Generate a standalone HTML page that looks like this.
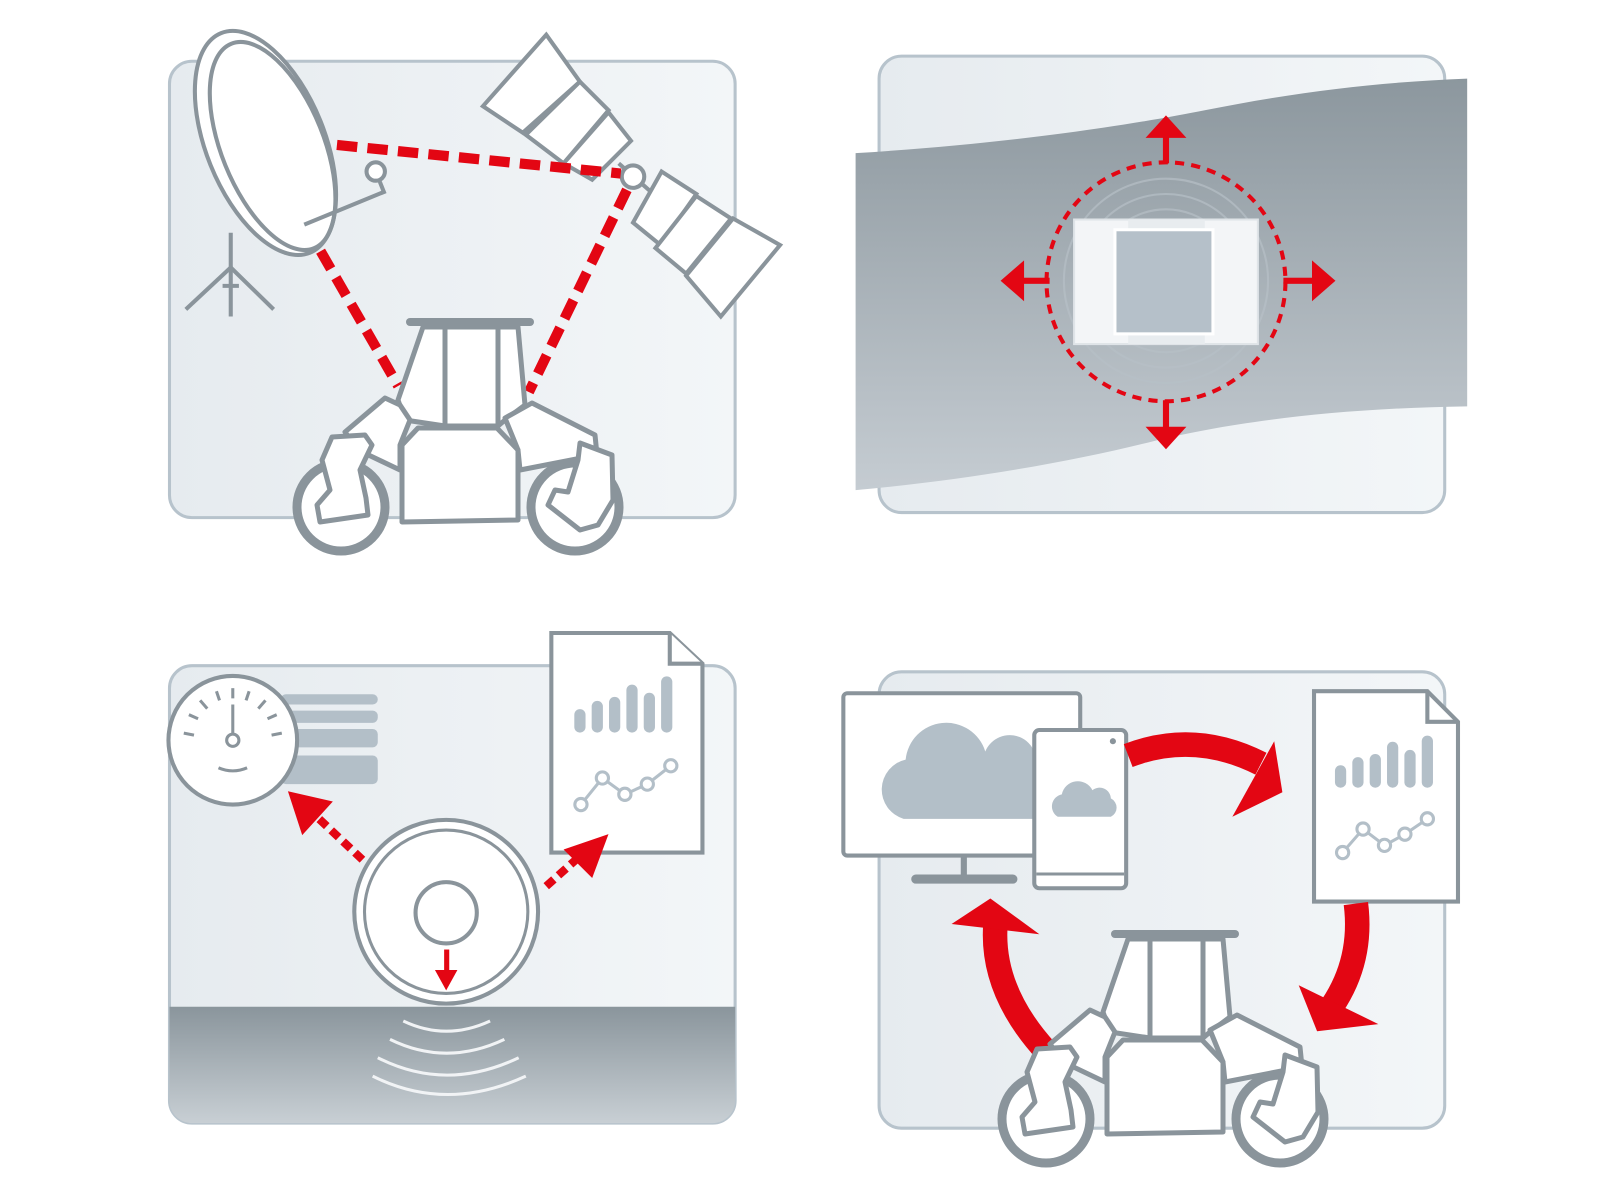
<!DOCTYPE html>
<html><head><meta charset="utf-8"><style>html,body{margin:0;padding:0;background:#fff}svg{display:block}</style></head>
<body>
<svg width="1600" height="1194" viewBox="0 0 1600 1194" xmlns="http://www.w3.org/2000/svg">
<defs>
<linearGradient id="pan" x1="0" x2="1"><stop offset="0" stop-color="#e6ebef"/><stop offset="1" stop-color="#f3f6f8"/></linearGradient>
<linearGradient id="band" x1="0" y1="0" x2="0" y2="1"><stop offset="0" stop-color="#8c979e"/><stop offset="1" stop-color="#c5ccd2"/></linearGradient>
<linearGradient id="gnd" x1="0" y1="0" x2="0" y2="1"><stop offset="0" stop-color="#8a959c"/><stop offset="1" stop-color="#c8cfd4"/></linearGradient>
<g id="robot" stroke="#8a949b" stroke-width="5" stroke-linejoin="round" fill="#fff">
  <polygon points="423,327 518,327 525,405 505,420 498,426 445,426 405,420 398,400"/>
  <line x1="445" y1="328" x2="445" y2="425"/><line x1="498" y1="328" x2="498" y2="425"/>
  <line x1="410" y1="322" x2="530" y2="322" stroke-width="8" stroke-linecap="round"/>
  <polygon points="345,432 385,398 400,405 410,420 400,445 400,470 358,450"/>
  <polygon points="505,418 532,403 595,435 597,455 520,470 518,450"/>
  <polygon points="402,445 418,428 497,428 518,450 518,520 402,522"/>
  <circle cx="341" cy="507" r="44" stroke-width="9"/>
  <circle cx="575" cy="507" r="44" stroke-width="9"/>
  <polygon points="332,437 365,435 372,445 360,470 366,498 368,515 320,522 317,505 330,490 322,460"/>
  <polygon points="580,443 612,455 613,500 598,525 580,530 548,505 555,490 568,492 578,460"/>
</g>
</defs>
<g transform="scale(1.021)">
<rect x="166" y="60" width="554" height="447" rx="22" fill="url(#pan)" stroke="#b7c3cc" stroke-width="3"/>
<rect x="861" y="55" width="554" height="447" rx="22" fill="url(#pan)" stroke="#b7c3cc" stroke-width="3"/>
<rect x="166" y="652" width="554" height="448" rx="22" fill="url(#pan)" stroke="#b7c3cc" stroke-width="3"/>
<path d="M166,986 H720 V1078 a22,22 0 0 1 -22,22 H188 a22,22 0 0 1 -22,-22Z" fill="url(#gnd)"/>
<rect x="861" y="658" width="554" height="447" rx="22" fill="url(#pan)" stroke="#b7c3cc" stroke-width="3"/>

<g stroke="#8a949b" stroke-width="4" fill="none">
<line x1="226" y1="228" x2="226" y2="310"/><line x1="182" y1="303" x2="226" y2="262"/><line x1="268" y1="303" x2="226" y2="262"/>
<line x1="218" y1="280" x2="234" y2="280"/>
</g>
<g stroke="#8a949b" stroke-width="4" fill="#fff">
<ellipse cx="260" cy="140" rx="58" ry="116" transform="rotate(-22 260 140)"/>
<ellipse cx="267" cy="143" rx="50" ry="108" transform="rotate(-22 267 143)" fill="none"/>
<polyline points="298,220 376,188 372,178" fill="none"/>
<circle cx="368" cy="168" r="9"/>
</g>
<g stroke="#8a949b" stroke-width="4" fill="#fff">
<polygon points="535,34 568,80 512,130 473,104"/>
<polygon points="568,80 596,108 552,160 515,132"/>
<polygon points="596,110 618,138 580,176 552,160"/>
<line x1="606" y1="160" x2="640" y2="190"/>
<polygon points="648,168 682,190 647,240 620,218"/>
<polygon points="682,192 716,214 672,268 642,243"/>
<polygon points="718,214 764,240 706,310 672,270"/>
<circle cx="620" cy="173" r="11"/>
</g>
<g stroke="#e30613" stroke-width="10" stroke-dasharray="20 10" fill="none">
<line x1="330" y1="142" x2="608" y2="170"/>
<line x1="614" y1="186" x2="518" y2="384"/>
<line x1="314" y1="246" x2="390" y2="378"/>
</g>

<path d="M838,150 C1000,140 1120,120 1180,108 C1280,88 1360,80 1437,77 V398 C1300,400 1200,415 1130,432 C1050,452 950,470 838,480Z" fill="url(#band)"/>
<g fill="none" stroke="#b7c0c7" stroke-width="2" opacity="0.7">
<circle cx="1142" cy="275" r="100"/><circle cx="1142" cy="275" r="85"/><circle cx="1142" cy="275" r="70"/>
</g>
<rect x="1052" y="215" width="180" height="122" fill="#f3f5f7" stroke="#dfe4e8" stroke-width="2"/>
<rect x="1105" y="215" width="75" height="122" fill="#e8ecef"/>
<rect x="1092" y="225" width="96" height="102" fill="#b5c0c9" stroke="#fff" stroke-width="3"/>
<circle cx="1142" cy="276" r="117" fill="none" stroke="#e30613" stroke-width="4" stroke-dasharray="9 7"/>
<g fill="#e30613">
<rect x="1139" y="125" width="6" height="35"/><polygon points="1122,135 1162,135 1142,113"/>
<rect x="1139" y="392" width="6" height="35"/><polygon points="1122,418 1162,418 1142,440"/>
<rect x="993" y="272" width="35" height="6"/><polygon points="1003,255 1003,295 980,275"/>
<rect x="1257" y="272" width="35" height="6"/><polygon points="1285,255 1285,295 1308,275"/>
</g>

<g fill="#b3bfc8">
<rect x="275" y="680" width="95" height="10" rx="5"/><rect x="275" y="696" width="95" height="12" rx="5"/>
<rect x="275" y="714" width="95" height="18" rx="5"/><rect x="275" y="740" width="95" height="28" rx="5"/>
</g>
<circle cx="228" cy="725" r="63" fill="#fff" stroke="#8a949b" stroke-width="4"/>
<g stroke="#8a949b" stroke-width="3" fill="none">
<circle cx="228" cy="725" r="6"/><line x1="228" y1="719" x2="228" y2="690"/>
<path d="M214,752 Q228,758 242,752"/>
<line x1="180" y1="718" x2="190" y2="720"/><line x1="185" y1="700" x2="194" y2="704"/><line x1="196" y1="686" x2="203" y2="694"/><line x1="212" y1="677" x2="215" y2="686"/><line x1="228" y1="674" x2="228" y2="684"/><line x1="244" y1="677" x2="241" y2="686"/><line x1="260" y1="686" x2="253" y2="694"/><line x1="271" y1="700" x2="262" y2="704"/><line x1="276" y1="718" x2="266" y2="720"/>
</g>
<path d="M540,620 H656 L688,650 V835 H540Z" fill="#fff" stroke="#8a949b" stroke-width="4"/>
<path d="M656,620 V650 H688" fill="#fff" stroke="#8a949b" stroke-width="4"/>
<g stroke="#b3bfc8" stroke-width="11" stroke-linecap="round">
<line x1="568" y1="700" x2="568" y2="712"/><line x1="585" y1="692" x2="585" y2="712"/><line x1="602" y1="688" x2="602" y2="712"/><line x1="619" y1="676" x2="619" y2="712"/><line x1="636" y1="684" x2="636" y2="712"/><line x1="653" y1="668" x2="653" y2="712"/>
</g>
<g stroke="#b3bfc8" stroke-width="3" fill="#fff"><polyline points="569,788 590,762 612,778 634,768 657,750" fill="none"/>
<circle cx="569" cy="788" r="6"/><circle cx="590" cy="762" r="6"/><circle cx="612" cy="778" r="6"/><circle cx="634" cy="768" r="6"/><circle cx="657" cy="750" r="6"/></g>
<circle cx="437" cy="893" r="90" fill="#fff" stroke="#8a949b" stroke-width="4"/>
<circle cx="437" cy="893" r="80" fill="none" stroke="#8a949b" stroke-width="3"/>
<circle cx="437" cy="894" r="30" fill="#fff" stroke="#8a949b" stroke-width="4"/>
<rect x="435" y="930" width="5" height="28" fill="#e30613"/><polygon points="426,950 448,950 437,970" fill="#e30613"/>
<g fill="none" stroke="#f1f3f5" stroke-width="3">
<path d="M395,1000 Q437,1020 480,1000"/><path d="M382,1018 Q437,1045 494,1018"/><path d="M370,1036 Q437,1070 508,1036"/><path d="M365,1054 Q437,1090 515,1054"/>
</g>
<g stroke="#e30613" stroke-width="8" stroke-dasharray="10 6" fill="none">
<line x1="355" y1="842" x2="305" y2="795"/><line x1="535" y1="868" x2="572" y2="835"/>
</g>
<polygon points="282,775 326,785 296,818" fill="#e30613"/>
<polygon points="596,817 580,860 552,832" fill="#e30613"/>

<rect x="826" y="679" width="232" height="159" rx="4" fill="#fff" stroke="#8a949b" stroke-width="4"/>
<line x1="944" y1="838" x2="944" y2="858" stroke="#8a949b" stroke-width="6"/>
<line x1="897" y1="861" x2="992" y2="861" stroke="#8a949b" stroke-width="9" stroke-linecap="round"/>
<path d="M885,802 a30,30 0 0 1 2,-58 a40,40 0 0 1 78,-8 a26,26 0 0 1 48,20 V802Z" fill="#b3bfc8"/>
<rect x="1013" y="715" width="90" height="155" rx="5" fill="#fff" stroke="#8a949b" stroke-width="4"/>
<line x1="1015" y1="856" x2="1101" y2="856" stroke="#8a949b" stroke-width="3"/>
<circle cx="1090" cy="726" r="3" fill="#8a949b"/>
<path d="M1036,800 a12,12 0 0 1 4,-22 a16,16 0 0 1 30,-4 a11,11 0 0 1 18,8 a10,10 0 0 1 0,18Z" fill="#b3bfc8"/>
<path d="M1287,677 H1398 L1428,707 V883 H1287Z" fill="#fff" stroke="#8a949b" stroke-width="4"/>
<path d="M1398,677 V707 H1428" fill="none" stroke="#8a949b" stroke-width="4"/>
<g stroke="#b3bfc8" stroke-width="11" stroke-linecap="round">
<line x1="1313" y1="755" x2="1313" y2="766"/><line x1="1330" y1="747" x2="1330" y2="766"/><line x1="1347" y1="744" x2="1347" y2="766"/><line x1="1364" y1="732" x2="1364" y2="766"/><line x1="1381" y1="740" x2="1381" y2="766"/><line x1="1398" y1="726" x2="1398" y2="766"/>
</g>
<g stroke="#b3bfc8" stroke-width="3" fill="#fff"><polyline points="1315,835 1335,812 1356,828 1376,817 1398,802" fill="none"/>
<circle cx="1315" cy="835" r="6"/><circle cx="1335" cy="812" r="6"/><circle cx="1356" cy="828" r="6"/><circle cx="1376" cy="817" r="6"/><circle cx="1398" cy="802" r="6"/></g>
<path d="M1105,740 Q1170,715 1235,748" fill="none" stroke="#e30613" stroke-width="24"/>
<polygon points="1248,726 1256,776 1207,800" fill="#e30613"/>
<path d="M1328,885 Q1335,940 1305,985" fill="none" stroke="#e30613" stroke-width="24"/>
<polygon points="1272,965 1350,1003 1290,1010" fill="#e30613"/>
<path d="M1025,1030 Q970,970 975,905" fill="none" stroke="#e30613" stroke-width="24"/>
<polygon points="932,905 970,880 1018,915" fill="#e30613"/>
</g>
<use href="#robot"/>
<use href="#robot" transform="translate(705,612)"/>
</svg>
</body></html>
